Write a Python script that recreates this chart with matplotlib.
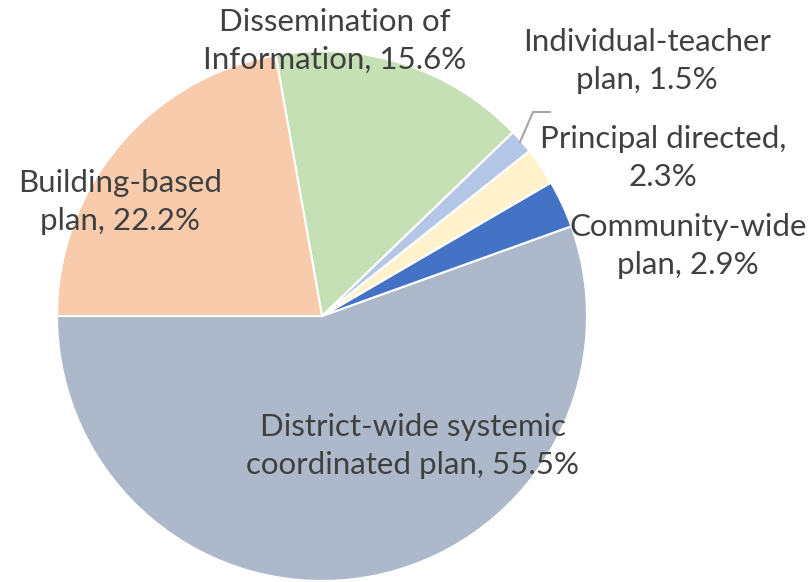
import matplotlib.pyplot as plt

# slice data, in drawing order starting at 9 o'clock going counter-clockwise
categories = ["District-wide systemic\ncoordinated plan", "Community-wide\nplan",
              "Principal directed,\n", "Individual-teacher\nplan",
              "Dissemination of\nInformation", "Building-based\nplan"]
shares = [55.5, 2.9, 2.3, 1.5, 15.6, 22.2]
colors = ["#ADB9CA", "#4472C4", "#FFF2CC", "#B4C7E7", "#C5E0B4", "#F8CBAD"]

# label centres in pixels on the 811x582 canvas
label_px = [(413, 446), (688, 246), (663, 158), (647, 61), (335, 41), (120, 202)]

W, H = 811, 582

fig = plt.figure(figsize=(W / 100, H / 100), dpi=100)
cx, cy, r = 322, 316, 265
ax = fig.add_axes([(cx - r) / W, (H - cy - r) / H, 2 * r / W, 2 * r / H])
ax.pie(shares, colors=colors, startangle=180, counterclock=True,
       wedgeprops=dict(edgecolor="white", linewidth=1.5), radius=1)
ax.set_xlim(-1, 1)
ax.set_ylim(-1, 1)
ax.set_aspect("equal")
ax.axis("off")

for cat, val, (px, py) in zip(categories, shares, label_px):
    if cat.endswith("\n"):
        txt = cat + f"{val}%"
    else:
        txt = cat + f", {val}%"
    fig.text(px / W, 1 - py / H, txt, ha="center", va="center", fontsize=22.5,
             color="#404040", family=["Lato", "DejaVu Sans"], linespacing=1.4)

# leader line for the small Individual-teacher slice
fig.add_artist(plt.Line2D([520 / W, 533 / W, 550 / W],
                          [1 - 142 / H, 1 - 112 / H, 1 - 112 / H],
                          color="#A6A6A6", linewidth=1.5))

fig.savefig("out.png", dpi=100)
